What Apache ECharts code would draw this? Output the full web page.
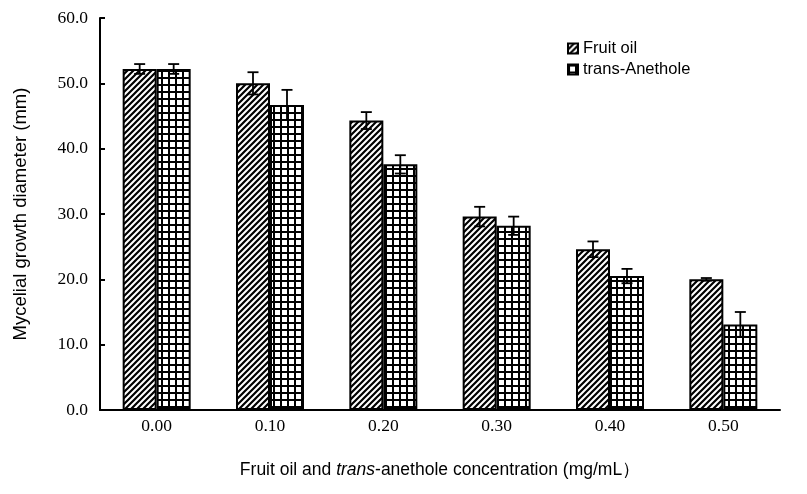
<!DOCTYPE html>
<html>
<head>
<meta charset="utf-8">
<script src="https://cdn.jsdelivr.net/npm/echarts@6/dist/echarts.min.js"></script>
<style>html,body{margin:0;padding:0;background:#fff;overflow:hidden;}#c{width:807px;height:494px;}</style>
</head>
<body>
<div id="c"></div>
<script>
const categories = ['0.00', '0.10', '0.20', '0.30', '0.40', '0.50'];
const fruitOil = [52.2, 50.0, 44.3, 29.6, 24.6, 20.0];
const fruitOilErr = [0.75, 1.7, 1.3, 1.5, 1.2, 0.2];
const anethole = [52.2, 46.7, 37.6, 28.2, 20.5, 13.1];
const anetholeErr = [0.75, 2.3, 1.4, 1.4, 1.1, 1.9];
const yTicks = [0, 10, 20, 30, 40, 50, 60];

function hatch() {
  const c = document.createElement('canvas');
  c.width = 6; c.height = 6;
  const g = c.getContext('2d');
  g.fillStyle = '#fff'; g.fillRect(0, 0, 6, 6);
  g.strokeStyle = '#000'; g.lineWidth = 2.2;
  g.beginPath();
  g.moveTo(-1, 7); g.lineTo(7, -1);
  g.moveTo(-4, 4); g.lineTo(4, -4);
  g.moveTo(2, 10); g.lineTo(10, 2);
  g.stroke();
  return c;
}
function gridPat() {
  const c = document.createElement('canvas');
  c.width = 7; c.height = 7;
  const g = c.getContext('2d');
  g.fillStyle = '#fff'; g.fillRect(0, 0, 7, 7);
  g.fillStyle = '#000';
  g.fillRect(0, 0, 7, 2);
  g.fillRect(0, 0, 2, 7);
  return c;
}
const hatchFill = { image: hatch(), repeat: 'repeat' };
const gridFill = { image: gridPat(), repeat: 'repeat' };

const BAR_W = 34;
function errSeries(vals, errs, offset, name) {
  return {
    type: 'custom',
    name: name,
    z: 10,
    silent: true,
    data: vals.map((v, i) => [i, v - errs[i], v + errs[i]]),
    renderItem: function (params, api) {
      const lo = api.coord([api.value(0), api.value(1)]);
      const hi = api.coord([api.value(0), api.value(2)]);
      const x = lo[0] + offset;
      const cap = 5.5;
      const st = { stroke: '#000', lineWidth: 1.8 };
      return {
        type: 'group',
        children: [
          { type: 'line', shape: { x1: x, y1: lo[1], x2: x, y2: hi[1] }, style: st },
          { type: 'line', shape: { x1: x - cap, y1: hi[1], x2: x + cap, y2: hi[1] }, style: st },
          { type: 'line', shape: { x1: x - cap, y1: lo[1], x2: x + cap, y2: lo[1] }, style: st }
        ]
      };
    }
  };
}

const chart = echarts.init(document.getElementById('c'));
chart.setOption({
  animation: false,
  backgroundColor: '#fff',
  grid: { left: 100, right: 27, top: 18, bottom: 84 },
  legend: {
    orient: 'vertical',
    left: 562, top: 35,
    itemWidth: 10, itemHeight: 10, itemGap: 4,
    icon: 'rect',
    data: ['Fruit oil', 'trans-Anethole'],
    textStyle: { fontFamily: 'Liberation Sans', fontSize: 16.5, color: '#000' }
  },
  xAxis: {
    type: 'category',
    data: categories,
    axisLine: { lineStyle: { color: '#000', width: 2 } },
    axisTick: { inside: true, length: 7, lineStyle: { color: '#000', width: 2 } },
    axisLabel: { fontFamily: 'Liberation Serif', fontSize: 17.5, color: '#000', margin: 7 },
    name: '{n|Fruit oil and }{i|trans}{n|-anethole concentration (mg/mL）}',
    nameLocation: 'middle',
    nameGap: 51,
    nameTextStyle: {
      rich: {
        n: { fontFamily: 'Liberation Sans', fontSize: 17.5, color: '#000' },
        i: { fontFamily: 'Liberation Sans', fontSize: 17.5, color: '#000', fontStyle: 'italic' }
      }
    }
  },
  yAxis: {
    type: 'value',
    min: 0, max: 60, interval: 10,
    splitLine: { show: false },
    axisLine: { show: true, lineStyle: { color: '#000', width: 2 } },
    axisTick: { show: true, inside: true, length: 5, lineStyle: { color: '#000', width: 2 } },
    axisLabel: {
      fontFamily: 'Liberation Serif', fontSize: 17.5, color: '#000', margin: 12,
      formatter: v => yTicks.includes(v) ? v.toFixed(1) : ''
    },
    name: 'Mycelial growth diameter (mm)',
    nameLocation: 'middle',
    nameGap: 70,
    nameTextStyle: { fontFamily: 'Liberation Sans', fontSize: 18.5, color: '#000' }
  },
  series: [
    {
      name: 'Fruit oil', type: 'bar', data: fruitOil, barWidth: BAR_W, barGap: '0%',
      itemStyle: { color: hatchFill, borderColor: '#000', borderWidth: 2 }
    },
    {
      name: 'trans-Anethole', type: 'bar', data: anethole, barWidth: BAR_W, barGap: '0%',
      itemStyle: { color: gridFill, borderColor: '#000', borderWidth: 2 }
    },
    errSeries(fruitOil, fruitOilErr, -BAR_W / 2, 'err1'),
    errSeries(anethole, anetholeErr, BAR_W / 2, 'err2')
  ]
});
</script>
</body>
</html>
